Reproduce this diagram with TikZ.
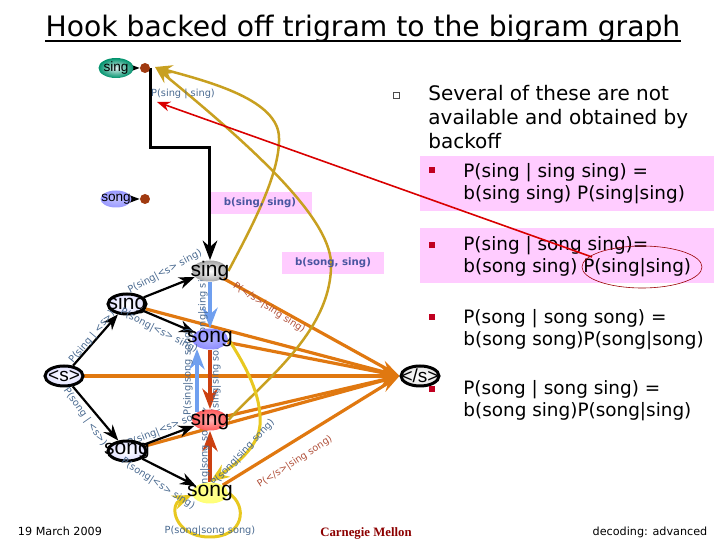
\documentclass[tikz,border=0pt]{standalone}
\usepackage{fontspec}
\setmainfont{DejaVu Sans}
\newfontfamily\nodefont{Liberation Sans}
\newfontfamily\logofont{Liberation Serif}
\usetikzlibrary{positioning, shapes.geometric, arrows.meta, calc, backgrounds}
\definecolor{pinkbox}{HTML}{FFCCFF}
\definecolor{labelblue}{HTML}{4A6A90}
\definecolor{labelred}{HTML}{B0503A}
\definecolor{boxtext}{HTML}{4A55A0}
\definecolor{arcorange}{HTML}{E07810}
\definecolor{arcgold}{HTML}{C8A020}
\definecolor{arcyellow}{HTML}{E8C820}
\definecolor{arcblue}{HTML}{6F9FEF}
\definecolor{arcred}{HTML}{CC4010}
\definecolor{dotbrown}{HTML}{A03A10}
\definecolor{bulletred}{HTML}{C00020}

\begin{document}
\begin{tikzpicture}[x=0.5pt, y=-0.5pt,
  word/.style={ellipse, inner xsep=-7pt, inner ysep=-5pt, minimum width=18pt, minimum height=10.5pt, font=\nodefont\fontsize{10.5}{12}\selectfont},
  hist/.style={word, draw=black, line width=1.5pt, inner color=white, outer color=blue!12, minimum width=19pt, minimum height=10pt},
  small/.style={ellipse, inner xsep=-4pt, inner ysep=-3pt, minimum width=17.5pt, minimum height=10pt, font=\nodefont\fontsize{6.8}{8}\selectfont},
  dot/.style={circle, inner sep=0pt, minimum size=5pt, fill=dotbrown},
  problabel/.style={font=\fontsize{4.9}{6}\selectfont, text=labelblue, inner sep=0pt},
  endlabel/.style={font=\fontsize{4.8}{6}\selectfont, text=labelred, inner sep=0pt},
  pinkrect/.style={fill=pinkbox, draw=none},
  btext/.style={font=\bfseries\fontsize{5.1}{7}\selectfont, text=boxtext, inner sep=0pt},
  bullet/.style={fill=bulletred, inner sep=0pt, minimum size=3pt},
  body/.style={anchor=north west, align=left, inner sep=0pt, font=\fontsize{10}{12}\selectfont},
  sub/.style={anchor=north west, align=left, inner sep=0pt, font=\fontsize{9.2}{10.8}\selectfont},
  foot/.style={font=\fontsize{5.6}{7}\selectfont, inner sep=0pt},
  blackarc/.style={-Stealth, black, line width=1.1pt},
  orangearc/.style={-{Stealth[length=10pt,width=6pt]}, arcorange, line width=1.6pt},
  goldarc/.style={-Stealth, arcgold, line width=1.25pt},
  yellowarc/.style={-Stealth, arcyellow, line width=1.5pt},
  bluearc/.style={-Stealth, arcblue, line width=1.6pt},
  redarc/.style={-Stealth, arcred, line width=1.6pt}
]
  \useasboundingbox (0,0) rectangle (720,540);

  % title
  \node[font=\fontsize{14.1}{16}\selectfont, inner sep=0pt] (title) at (363,29) {Hook backed off trigram to the bigram graph};
  \draw[line width=0.6pt] (title.south west |- 0,41) -- (title.south east |- 0,41);

  % word nodes
  \node[small, inner color=white!85!teal, outer color=teal!85!green] (singa) at (116,68) {sing};
  \node[dot] (dota) at (145,68) {};
  \node[small, inner color=white!75!blue, outer color=blue!40, minimum width=15.5pt, minimum height=8.5pt] (songa) at (116,199) {song};
  \node[dot] (dotb) at (145,199) {};
  \node[word, inner color=white, outer color=gray!70] (singm) at (210,271) {sing};
  \node[hist] (singh) at (127,304) {sing};
  \node[word, inner color=white!70!blue, outer color=blue!45] (songm) at (210,339) {song};
  \node[hist, font=\nodefont\fontsize{9.5}{12}\selectfont] (start) at (64,376) {<s>};
  \node[hist, font=\nodefont\fontsize{9.5}{12}\selectfont, inner color=white, outer color=gray!20] (stop) at (420,376) {</s>};
  \node[word, inner color=red!30, outer color=red!65] (singr) at (210,420) {sing};
  \node[hist] (songh) at (127,451) {song};
  \node[word, inner color=yellow!40, outer color=yellow!55] (songy) at (210,493) {song};

  % end points of the arcs
  \coordinate (bendb) at (210,148);
  \coordinate (goldtip) at (155,67);
  \coordinate (bluelow) at (197,412);
  \coordinate (bluehigh) at (197,349);
  \coordinate (redtip) at (157,102);
  \coordinate (redfrom) at (592,257);

  \begin{scope}[on background layer]
    \fill[pinkrect] (211,192) rectangle (312,214);
    \fill[pinkrect] (282,252) rectangle (384,274);
    \fill[pinkrect] (420,156) rectangle (714,211);
    \fill[pinkrect] (420,228) rectangle (714,283);

    \draw[orangearc] (singm) -- (stop.west);
    \draw[orangearc] (singh) -- (stop.west);
    \draw[orangearc] (songm) -- (stop.west);
    \draw[orangearc] (start) -- (stop.west);
    \draw[orangearc] (singr) -- (stop.west);
    \draw[orangearc] (songh) -- (stop.west);
    \draw[orangearc] (songy) -- (stop.west);

    \draw[blackarc] (singa) -- (dota);
    \draw[blackarc] (songa) -- (dotb);
    \draw[black, line width=1.5pt, -Stealth] (dota.east) |- (bendb) -- (singm.north);
    \draw[blackarc] (start) -- (singh);
    \draw[blackarc] (start) -- (songh);
    \draw[blackarc] (singh) -- (singm);
    \draw[blackarc] (singh) -- (songm);
    \draw[blackarc] (songh) -- (singr);
    \draw[blackarc] (songh) -- (songy);

    \draw[bluearc] (singm) -- (songm);
    \draw[bluearc] (bluelow) -- (bluehigh);
    \draw[redarc] (songm) -- (singr);
    \draw[redarc] (songy) -- (singr);

    \draw[goldarc] (singm.east) .. controls (250,230) and (280,175) .. (279,138) .. controls (279,100) and (210,82) .. (goldtip);
    \draw[goldarc] (singr.east) .. controls (265,380) and (333,330) .. (331,262) .. controls (328,215) and (250,145) .. (goldtip);
    \draw[yellowarc] (songm.east) .. controls (245,365) and (262,395) .. (260,425) .. controls (258,450) and (230,468) .. (songy.north);
    \draw[yellowarc] (songy.east) .. controls (248,505) and (245,538) .. (208,537) .. controls (175,536) and (168,505) .. (192,495);

    % labels that run behind the words
    \node[problabel, rotate=90] (pva) at (203,306) {P(song|sing sing)};
    \node[problabel, rotate=90] (pvb) at (188,372) {P(sing|song song)};
    \node[problabel, rotate=90] (pvc) at (216,376) {P(sing|sing song)};
    \node[problabel, rotate=90] (pvd) at (205,458) {P(sing|song song)};
    \node[problabel, rotate=22] (pshd) at (168,428) {P(sing|<s> song)};
    \node[problabel, rotate=47] (pcur) at (243,453) {P(song|sing song)};
  \end{scope}

  % probabilities on the arcs
  \node[problabel] (psingsing) at (183,94) {P(sing | sing)};
  \node[problabel, rotate=50] (psings) at (92,337) {P(sing | <s>)};
  \node[problabel, rotate=-55] (psongs) at (85,417) {P(song | <s>)};
  \node[problabel, rotate=28] (pshs) at (165,272) {P(sing|<s> sing)};
  \node[problabel, rotate=-27] (pshb) at (159,331) {P(song|<s> sing)};
  \node[problabel, rotate=-33] (pshc) at (158,484) {P(song|<s> sing)};
  \node[problabel] (pself) at (210,531) {P(song|song song)};
  \node[endlabel, rotate=-33] (pesing) at (269,308) {P(</s>|sing sing)};
  \node[endlabel, rotate=33] (pesong) at (295,462) {P(</s>|sing song)};

  \node[btext] (bsing) at (260,203) {b(sing, sing)};
  \node[btext] (bsong) at (333,263) {b(song, sing)};

  % text on the right
  \node[draw=black!70, line width=0.3pt, inner sep=0pt, minimum size=3pt] (bulleta) at (396,95) {};
  \node[body] (several) at (428,85) {Several of these are not\\available and obtained by\\backoff};
  \node[bullet] (bulletb) at (432,170) {};
  \node[sub] (rulea) at (463,163) {P(sing | sing sing) =\\b(sing sing) P(sing|sing)};
  \node[bullet] (bulletc) at (432,245) {};
  \node[sub] (ruleb) at (463,236) {P(sing | song sing)=\\b(song sing) P(sing|sing)};
  \node[bullet] (bulletd) at (432,317) {};
  \node[sub] (rulec) at (463,309) {P(song | song song) =\\b(song song)P(song|song)};
  \node[bullet] (bullete) at (432,389) {};
  \node[sub] (ruled) at (463,380) {P(song | song sing) =\\b(song sing)P(song|sing)};

  \draw[-Stealth, red!85!black, line width=0.8pt] (redfrom) -- (redtip);
  \node[draw=red!60!black, line width=0.3pt, ellipse, minimum width=60pt, minimum height=21pt, inner sep=0pt] (circled) at (642,267) {};

  % footer
  \node[foot] (date) at (60,531) {19 March 2009};
  \node[foot] (topic) at (650,532) {decoding: advanced};
  \node[font=\logofont\bfseries\fontsize{6.4}{7}\selectfont, text=red!55!black, inner sep=0pt] (logo) at (366,533) {Carnegie Mellon};
\end{tikzpicture}
\end{document}
